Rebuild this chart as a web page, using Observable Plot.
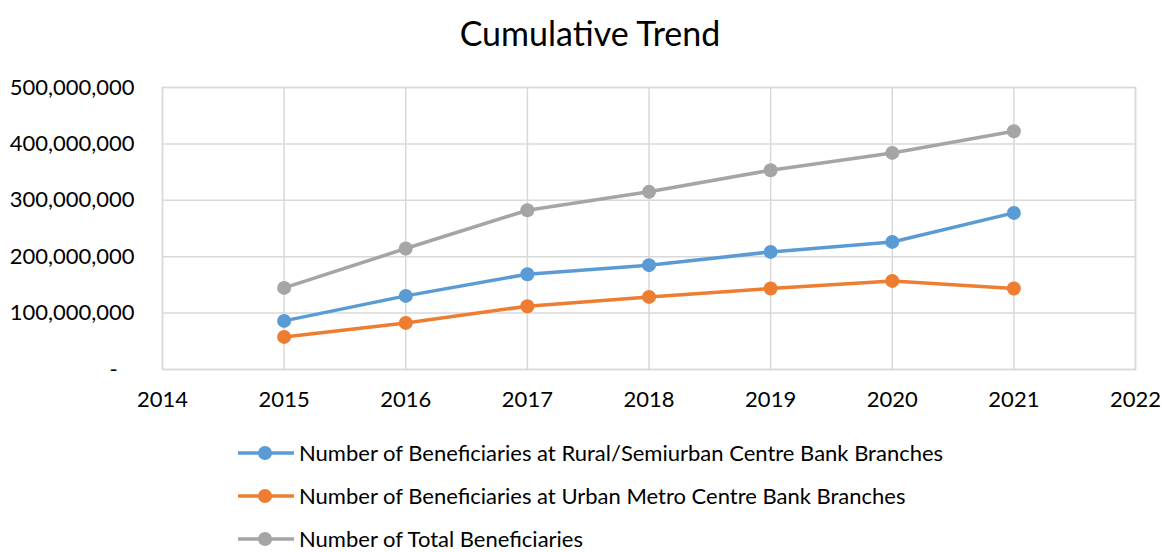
<!DOCTYPE html>
<html><head><meta charset="utf-8">
<script src="https://cdn.jsdelivr.net/npm/d3@7"></script>
<script src="https://cdn.jsdelivr.net/npm/@observablehq/plot@0.6"></script>
<style>
body{margin:0;background:#fff;font-family:Lato,"Open Sans",sans-serif;}
#wrap{position:relative;width:1162px;height:552px;background:#fff}
#title{position:absolute;left:0;top:0;width:1180px;text-align:center;font-size:34px;line-height:66px;color:#000}
#plot{position:absolute;left:0;top:70px}
#legend{position:absolute;left:238px;top:431px}
.row{display:flex;align-items:center;height:43px;font-size:22px;line-height:1;color:#000}
.row svg{margin-right:5px}
</style></head>
<body><div id="wrap"><div id="title">Cumulative Trend</div><div id="plot"></div><div id="legend"></div></div>
<script>
const years = [2015, 2016, 2017, 2018, 2019, 2020, 2021];
const seriesNames = [
  "Number of Beneficiaries at Rural/Semiurban Centre Bank Branches",
  "Number of Beneficiaries at Urban Metro Centre Bank Branches",
  "Number of Total Beneficiaries"
];
const rural = [86200000, 130500000, 169000000, 185000000, 208500000, 226200000, 277700000];
const urban = [57800000, 82600000, 112200000, 128700000, 143600000, 157100000, 143600000];
const total = [144700000, 214500000, 282400000, 315000000, 353400000, 384000000, 422500000];
const colors = ["#5B9BD5", "#ED7D31", "#A5A5A5"];
const xTicks = [2014, 2015, 2016, 2017, 2018, 2019, 2020, 2021, 2022];
const yTicks = [0, 100000000, 200000000, 300000000, 400000000, 500000000];

const valuesBySeries = [rural, urban, total];
const data = [];
seriesNames.forEach((s, i) => years.forEach((y, j) => data.push({series: s, year: y, value: valuesBySeries[i][j]})));

const fmt = d3.format(",");
const chart = Plot.plot({
  width: 1162,
  height: 355,
  marginTop: 17,
  marginBottom: 56,
  marginLeft: 162,
  marginRight: 27,
  style: {fontFamily: "Lato, sans-serif", fontSize: "22px", color: "#000", background: "#fff"},
  x: {domain: [2014, 2022], label: null},
  y: {domain: [0, 500000000], label: null},
  color: {domain: seriesNames, range: colors},
  marks: [
    Plot.gridX(xTicks, {stroke: "#d9d9d9", strokeOpacity: 1, strokeWidth: 1.5}),
    Plot.gridY(yTicks, {stroke: "#d9d9d9", strokeOpacity: 1, strokeWidth: 1.5}),
    Plot.frame({stroke: "#d9d9d9", strokeWidth: 1.5}),
    Plot.axisX(xTicks, {tickSize: 0, tickPadding: 22, tickFormat: d => String(d), fontSize: 22}),
    Plot.axisY(yTicks, {tickSize: 0, tickPadding: 28, tickFormat: d => d === 0 ? "-\u00A0\u00A0\u00A0" : fmt(d), fontSize: 22}),
    Plot.line(data, {x: "year", y: "value", z: "series", stroke: "series", strokeWidth: 3.5}),
    Plot.dot(data, {x: "year", y: "value", fill: "series", r: 7})
  ]
});
document.getElementById("plot").appendChild(chart);

const legend = document.getElementById("legend");
seriesNames.forEach((s, i) => {
  const row = document.createElement("div");
  row.className = "row";
  row.innerHTML = `<svg width="56" height="16"><line x1="0" y1="8" x2="56" y2="8" stroke="${colors[i]}" stroke-width="3.5"/><circle cx="27" cy="8" r="7" fill="${colors[i]}"/></svg><span>${s}</span>`;
  legend.appendChild(row);
});
</script></body></html>
